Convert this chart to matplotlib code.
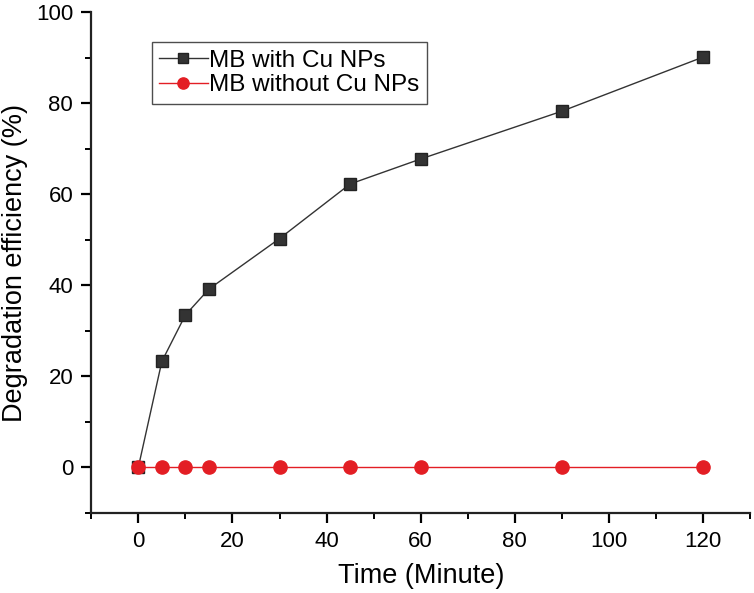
import matplotlib
matplotlib.use('Agg')
import matplotlib.pyplot as plt
from matplotlib.ticker import MultipleLocator

plt.rcParams['font.family'] = ['Liberation Sans', 'DejaVu Sans']

# data
time_min = [0, 5, 10, 15, 30, 45, 60, 90, 120]
with_cu = [0, 23.3, 33.5, 39.2, 50.3, 62.3, 67.8, 78.3, 90.2]
without_cu = [0, 0, 0, 0, 0, 0, 0, 0, 0]

fig = plt.figure(figsize=(7.54, 5.93), dpi=100)
ax = fig.add_axes([0.121, 0.135, 0.874, 0.844])

# red drawn on top, like the reference (covers the black square at t=0)
ax.plot(time_min, with_cu, color='#333333', lw=1.0, marker='s', ms=9,
        markerfacecolor='#333333', markeredgecolor='#222222',
        label='MB with Cu NPs', zorder=3)
ax.plot(time_min, without_cu, color='#e31e24', lw=1.0, marker='o', ms=9.5,
        markerfacecolor='#e31e24', markeredgecolor='#e31e24',
        label='MB without Cu NPs', zorder=4)

ax.set_xlim(-10, 130)
ax.set_ylim(-10, 100)
ax.xaxis.set_major_locator(MultipleLocator(20))
ax.xaxis.set_minor_locator(MultipleLocator(10))
ax.yaxis.set_major_locator(MultipleLocator(20))
ax.yaxis.set_minor_locator(MultipleLocator(10))

for s in ['top', 'right']:
    ax.spines[s].set_visible(False)
for s in ['left', 'bottom']:
    ax.spines[s].set_linewidth(1.6)
    ax.spines[s].set_color('#222222')

ax.tick_params(which='major', direction='out', length=7, width=1.6,
               labelsize=16, pad=6)
ax.tick_params(which='minor', direction='out', length=4, width=1.4)

ax.set_xlabel('Time (Minute)', fontsize=19.5, labelpad=8)
ax.set_ylabel('Degradation efficiency (%)', fontsize=19.5, labelpad=6)

leg = ax.legend(loc='upper left',
                bbox_to_anchor=(0.092, 0.94), fontsize=17.5, frameon=True,
                fancybox=False, edgecolor='#222222', handlelength=2.0,
                handletextpad=0.05, borderpad=0.3, labelspacing=0.1,
                markerscale=0.85, borderaxespad=0)
leg.get_frame().set_linewidth(1.0)

fig.savefig('out.png', dpi=100)
